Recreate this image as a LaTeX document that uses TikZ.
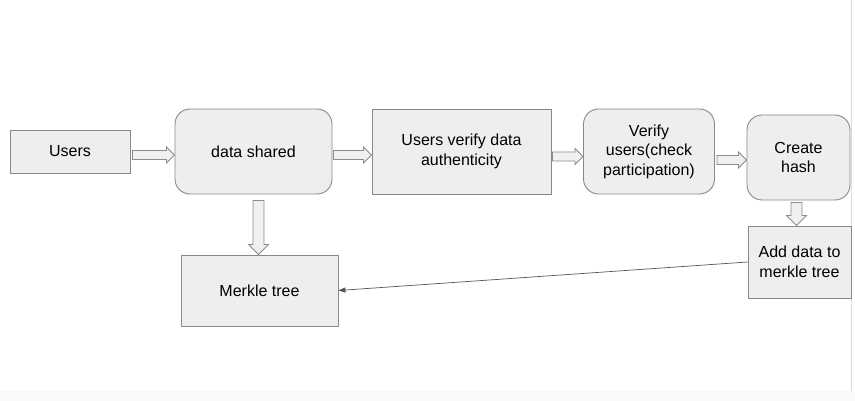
\documentclass[tikz,border=0pt]{standalone}
\usepackage{fontspec}
\setmainfont{Liberation Sans}
\usetikzlibrary{calc, arrows.meta}

\definecolor{boxfill}{HTML}{EEEEEE}
\definecolor{boxline}{HTML}{888888}
\definecolor{arrowfill}{HTML}{F0F0F0}
\definecolor{arrowline}{HTML}{8C8C8C}
\definecolor{stripfill}{HTML}{F8F9FA}
\definecolor{edgeline}{HTML}{DADCE0}
\definecolor{linkline}{HTML}{555555}

\tikzset{
    box/.style={draw=boxline, fill=boxfill, line width=0.9pt, align=center, inner sep=0pt},
    rbox/.style={box, rounded corners=15pt},
    blockarrow/.style={draw=arrowline, fill=arrowfill, line width=0.8pt, line join=miter},
    thinlink/.style={draw=linkline, line width=0.7pt, -{Triangle[length=7pt,width=5pt]}}
}

\newcommand{\harrow}[2]{%
    \draw[blockarrow] let \p1=(#1), \p2=(#2) in
        (\x1,\y1+4.5pt) -- (\x2-8pt,\y1+4.5pt) -- (\x2-8pt,\y1+8pt) -- (\x2,\y1)
        -- (\x2-8pt,\y1-8pt) -- (\x2-8pt,\y1-4.5pt) -- (\x1,\y1-4.5pt) -- cycle;}
\newcommand{\varrow}[2]{%
    \draw[blockarrow] let \p1=(#1), \p2=(#2) in
        (\x1-5.5pt,\y1) -- (\x1-5.5pt,\y2+10pt) -- (\x1-10pt,\y2+10pt) -- (\x1,\y2)
        -- (\x1+10pt,\y2+10pt) -- (\x1+5.5pt,\y2+10pt) -- (\x1+5.5pt,\y1) -- cycle;}

\begin{document}
\begin{tikzpicture}[x=1pt, y=-1pt, font=\fontsize{16}{19.5}\selectfont]
    \fill[white] (0,0) rectangle (855,401);
    \useasboundingbox (0,0) rectangle (855,401);
    \fill[stripfill] (0,391) rectangle (855,401);
    \draw[edgeline, line width=1pt] (851,0) -- (851,391);

    \node[box, minimum width=120, minimum height=43] (users) at (70,151.5) {Users};
    \node[rbox, minimum width=157, minimum height=85] (shared) at (253.5,151.5) {data shared};
    \node[box, minimum width=179, minimum height=85] (verifydata) at (461.5,151.5) {Users verify data\\authenticity};
    \node[rbox, minimum width=131, minimum height=85] (verifyusers) at (649,151.5) {Verify\\users(check\\participation)};
    \node[rbox, minimum width=103, minimum height=85] (hash) at (798.5,157.5) {Create\\hash};
    \node[box, minimum width=103, minimum height=72] (addtree) at (799.5,262) {Add data to\\merkle tree};
    \node[box, minimum width=157, minimum height=71] (merkle) at (259.5,290.5) {Merkle tree};

    \harrow{$(users.east)+(2,3.5)$}{shared.west}
    \harrow{$(shared.east)+(1,3.5)$}{verifydata.west}
    \harrow{$(verifydata.east)+(1,5)$}{verifyusers.west}
    \harrow{$(verifyusers.east)+(2,8.5)$}{hash.west}
    \varrow{$(shared.south)+(5,6)$}{merkle.north}
    \varrow{$(hash.south)+(-2,2)$}{addtree.north}

    \draw[thinlink] (addtree.west) -- (merkle.east);
\end{tikzpicture}
\end{document}
